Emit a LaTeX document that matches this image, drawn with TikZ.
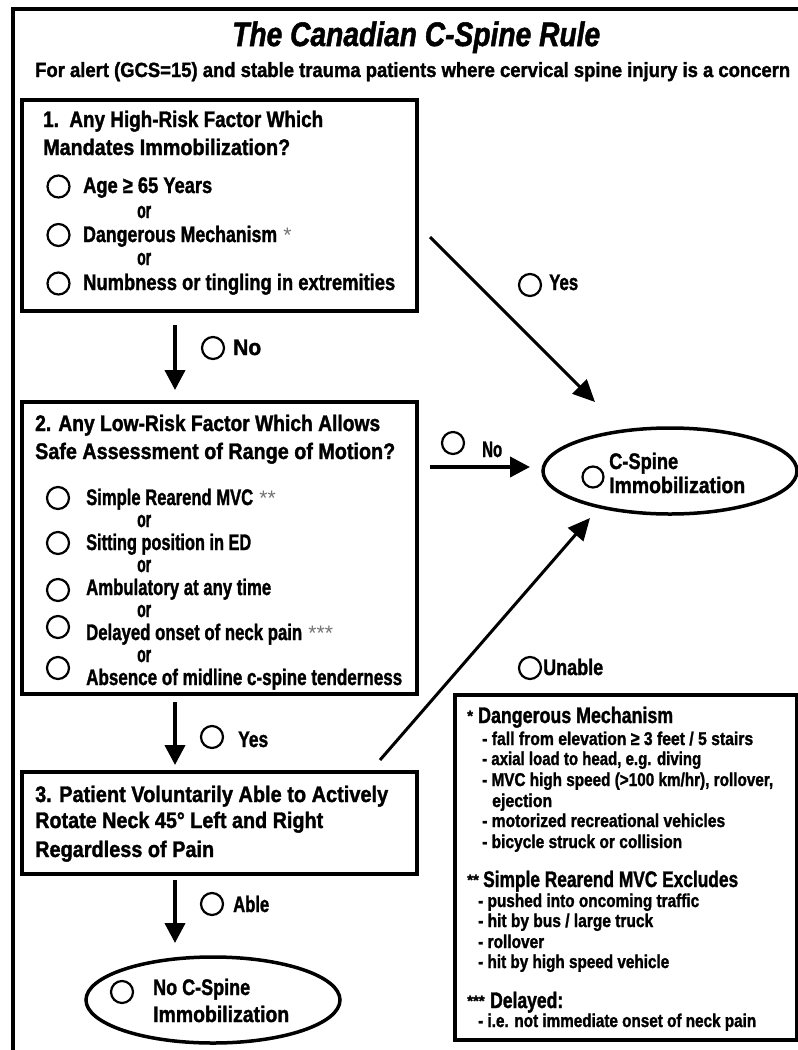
\documentclass[tikz,border=0pt]{standalone}
\usepackage{fontspec}
\usepackage{graphicx}
\usetikzlibrary{arrows.meta,shapes.geometric}
\newfontfamily\imp{Liberation Sans}[FakeBold=1.6]
\newfontfamily\astf{Liberation Sans}
\newcommand{\fw}[2]{\resizebox{#1pt}{\height}{#2}}
\newcommand{\gast}[1]{{\astf\mdseries\color{black!55}\fontsize{21}{22}\selectfont #1}}
\begin{document}
\begin{tikzpicture}[x=1pt,y=-1pt,
  box/.style={draw,line width=4pt,inner sep=0,outer sep=0},
  chk/.style={circle,draw,line width=2.2pt,minimum size=22pt,inner sep=0},
  txt/.style={anchor=base west,inner sep=0,font=\imp\bfseries\fontsize{22.5}{26}\selectfont},
  ntxt/.style={anchor=base west,inner sep=0,font=\imp\bfseries\fontsize{18.5}{21}\selectfont},
  stxt/.style={anchor=base west,inner sep=0,font=\imp\bfseries\fontsize{15}{17}\selectfont},
  flow/.style={line width=4pt,-{Triangle[length=20pt,width=20pt]}},
  diag/.style={line width=3pt,-{Triangle[length=22pt,width=20pt]}},
  oval/.style={draw,ellipse,line width=3.5pt,minimum width=254pt,minimum height=86pt,inner sep=0}]
\useasboundingbox (0,0) rectangle (798,1050);
\fill[white] (0,0) rectangle (798,1050);
% frame
\coordinate (fa) at (13,1052);
\coordinate (fb) at (13,9);
\coordinate (fc) at (800,9);
\draw[line width=4pt] (fa) -- (fb) -- (fc);
% title
\node[anchor=base west,inner sep=0,font=\imp\bfseries\itshape\fontsize{34}{36}\selectfont] (title) at (232,46) {\fw{368}{The Canadian C-Spine Rule}};
\node[anchor=base west,inner sep=0,font=\imp\bfseries\fontsize{20.5}{23}\selectfont] (sub) at (35,77) {\fw{755}{For alert (GCS=15) and stable trauma patients where cervical spine injury is a concern}};
% boxes
\node[box,minimum width=395pt,minimum height=211pt] (b1) at (219.5,205.5) {};
\node[box,minimum width=395pt,minimum height=292pt] (b2) at (219.5,548) {};
\node[box,minimum width=395pt,minimum height=102pt] (b3) at (219.5,823) {};
\node[box,minimum width=342pt,minimum height=345pt] (notes) at (626,867.5) {};
\node[oval] (e1) at (670,471) {};
\node[oval] (e2) at (213,1000) {};
% box 1
\node[txt] (h1a) at (43,127) {\fw{280}{1.\ \ Any High-Risk Factor Which}};
\node[txt] (h1b) at (43,155) {\fw{247}{Mandates Immobilization?}};
\node[chk] (c11) at (58.5,186.5) {};
\node[chk] (c12) at (58.5,235) {};
\node[chk] (c13) at (58.5,283.5) {};
\node[txt] (i11) at (83,193) {\fw{129}{Age ≥ 65 Years}};
\node[txt] (o11) at (137,218) {\fw{14}{or}};
\node[txt] (i12) at (83,242) {\fw{194}{Dangerous Mechanism}\ \gast{*}};
\node[txt] (o12) at (137,265) {\fw{14}{or}};
\node[txt] (i13) at (83,290) {\fw{312}{Numbness or tingling in extremities}};
% box 2
\node[txt] (h2a) at (35,431) {\fw{345}{2. Any Low-Risk Factor Which Allows}};
\node[txt] (h2b) at (35,459) {\fw{360}{Safe Assessment of Range of Motion?}};
\node[chk] (c21) at (58,498) {};
\node[chk] (c22) at (58,543) {};
\node[chk] (c23) at (58,590) {};
\node[chk] (c24) at (58,627) {};
\node[chk] (c25) at (58,668) {};
\node[txt] (i21) at (86,505) {\fw{167}{Simple Rearend MVC}\ \gast{**}};
\node[txt] (o21) at (137,527) {\fw{14}{or}};
\node[txt] (i22) at (86,550) {\fw{165}{Sitting position in ED}};
\node[txt] (o22) at (137,572) {\fw{14}{or}};
\node[txt] (i23) at (86,595) {\fw{185}{Ambulatory at any time}};
\node[txt] (o23) at (137,617) {\fw{14}{or}};
\node[txt] (i24) at (86,640) {\fw{216}{Delayed onset of neck pain}\ \gast{***}};
\node[txt] (o24) at (137,662) {\fw{14}{or}};
\node[txt] (i25) at (86,685) {\fw{316}{Absence of midline c-spine tenderness}};
% box 3
\node[txt] (h3a) at (35,802) {\fw{353}{3. Patient Voluntarily Able to Actively}};
\node[txt] (h3b) at (35,828) {\fw{288}{Rotate Neck 45° Left and Right}};
\node[txt] (h3c) at (35,857) {\fw{179}{Regardless of Pain}};
% ellipse texts
\node[chk,minimum size=21pt] (ce1) at (593,477) {};
\node[txt] (e1a) at (609,469) {\fw{69}{C-Spine}};
\node[txt] (e1b) at (609,493) {\fw{136}{Immobilization}};
\node[chk] (ce2) at (122,992) {};
\node[txt] (e2a) at (153,995) {\fw{97}{No C-Spine}};
\node[txt] (e2b) at (153,1022) {\fw{136}{Immobilization}};
% arrows
\coordinate (a1s) at (175,325); \coordinate (a1e) at (175,390);
\coordinate (a2s) at (175,702); \coordinate (a2e) at (175,765);
\coordinate (a3s) at (175,880); \coordinate (a3e) at (175,943);
\coordinate (ys) at (430,237); \coordinate (ye) at (595,402);
\coordinate (ns) at (430,467); \coordinate (ne) at (530,467);
\coordinate (us) at (380,760); \coordinate (ue) at (590,518);
\draw[flow] (a1s) -- (a1e);
\draw[flow] (a2s) -- (a2e);
\draw[flow] (a3s) -- (a3e);
\draw[flow] (ns) -- (ne);
\draw[diag] (ys) -- (ye);
\draw[diag] (us) -- (ue);
% arrow labels
\node[chk] (l1) at (213,348) {};
\node[txt] (l1t) at (233,355) {\fw{28}{No}};
\node[chk] (l2) at (530,285) {};
\node[txt] (l2t) at (549,290) {\fw{29}{Yes}};
\node[chk] (l3) at (453,443) {};
\node[txt] (l3t) at (482,457) {\fw{20}{No}};
\node[chk] (l4) at (212,737) {};
\node[txt] (l4t) at (238,747) {\fw{30}{Yes}};
\node[chk] (l5) at (212,904) {};
\node[txt] (l5t) at (233,912) {\fw{36}{Able}};
\node[chk] (l6) at (530,668) {};
\node[txt] (l6t) at (543,675) {\fw{60}{Unable}};
% notes
\node[stxt] (n1s) at (467,721) {*};
\node[txt] (n1) at (478,723) {\fw{195}{Dangerous Mechanism}};
\node[ntxt] (n11) at (482,745) {\fw{271}{- fall from elevation ≥ 3 feet / 5 stairs}};
\node[ntxt] (n12) at (482,765) {\fw{219}{- axial load to head, e.g. diving}};
\node[ntxt] (n13) at (482,786) {\fw{291}{- MVC high speed (>100 km/hr), rollover,}};
\node[ntxt] (n14) at (492,807) {\fw{60}{ejection}};
\node[ntxt] (n15) at (482,827) {\fw{243}{- motorized recreational vehicles}};
\node[ntxt] (n16) at (482,848) {\fw{200}{- bicycle struck or collision}};
\node[stxt] (n2s) at (467,885) {**};
\node[txt] (n2) at (483,887) {\fw{255}{Simple Rearend MVC Excludes}};
\node[ntxt] (n21) at (478,907) {\fw{221}{- pushed into oncoming traffic}};
\node[ntxt] (n22) at (478,927) {\fw{175}{- hit by bus / large truck}};
\node[ntxt] (n23) at (478,948) {\fw{66}{- rollover}};
\node[ntxt] (n24) at (478,968) {\fw{191}{- hit by high speed vehicle}};
\node[stxt] (n3s) at (467,1006) {***};
\node[txt] (n3) at (490,1008) {\fw{73}{Delayed:}};
\node[ntxt] (n31) at (478,1027) {\fw{278}{- i.e. not immediate onset of neck pain}};
\end{tikzpicture}
\end{document}
